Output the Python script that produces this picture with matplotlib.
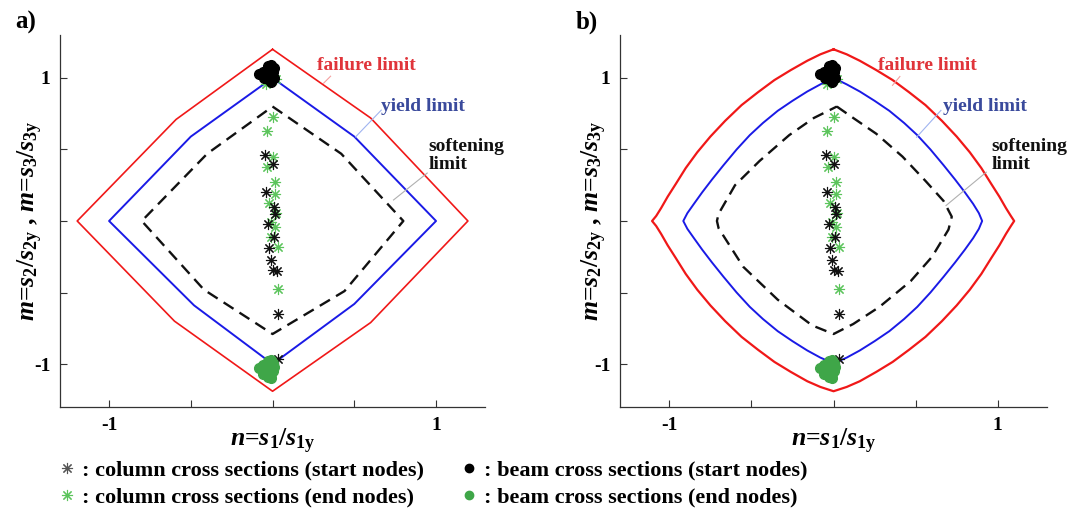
import matplotlib
matplotlib.use("Agg")
import matplotlib.pyplot as plt
from matplotlib.lines import Line2D

plt.rcParams['font.family'] = ['Liberation Serif', 'DejaVu Serif']
plt.rcParams['font.weight'] = 'bold'
plt.rcParams['mathtext.fontset'] = 'custom'
plt.rcParams['mathtext.it'] = 'Liberation Serif:italic:bold'
plt.rcParams['mathtext.rm'] = 'Liberation Serif:bold'
plt.rcParams['mathtext.bf'] = 'Liberation Serif:bold'

# --- limit surfaces, panel a (piecewise linear) ---
fail_a_n = [0, 0.60, 1.195, 0.60, 0, -0.60, -1.195, -0.59, 0]
fail_a_m = [1.20, 0.72, 0, -0.71, -1.19, -0.70, 0, 0.71, 1.20]
yield_a_n = [0, 0.50, 1.0, 0.50, 0, -0.48, -1.0, -0.50, 0]
yield_a_m = [1.0, 0.59, 0, -0.58, -1.0, -0.59, 0, 0.59, 1.0]
soft_a_n = [0, 0.42, 0.80, 0.44, 0, -0.42, -0.80, -0.40, 0]
soft_a_m = [0.80, 0.47, 0, -0.49, -0.79, -0.48, 0, 0.47, 0.80]

# --- limit surfaces, panel b (curved) ---
fail_b_n = [0, 0.08, 0.16, 0.26, 0.36, 0.46, 0.56, 0.66, 0.75, 0.83, 0.90, 0.96, 1.01, 1.05,
            1.08, 1.10, 1.08, 1.05, 1.01, 0.96, 0.90, 0.83, 0.75, 0.66, 0.56, 0.46, 0.36, 0.26,
            0.16, 0.08, 0, -0.08, -0.16, -0.26, -0.36, -0.46, -0.56, -0.66, -0.75, -0.83,
            -0.90, -0.96, -1.01, -1.05, -1.08, -1.105, -1.08, -1.05, -1.01, -0.96, -0.90, -0.83,
            -0.75, -0.66, -0.56, -0.46, -0.36, -0.26, -0.16, -0.08, 0]
fail_b_m = [1.20, 1.165, 1.12, 1.055, 0.985, 0.90, 0.81, 0.70, 0.59, 0.48, 0.37, 0.26, 0.17, 0.09,
            0.035, 0, -0.035, -0.09, -0.17, -0.26, -0.37, -0.48, -0.59, -0.70, -0.81, -0.90, -0.985,
            -1.055, -1.12, -1.16, -1.19, -1.16, -1.12, -1.055, -0.985, -0.90, -0.81, -0.70, -0.59,
            -0.48, -0.37, -0.26, -0.17, -0.09, -0.035, 0, 0.035, 0.09, 0.17, 0.26, 0.37, 0.48,
            0.59, 0.70, 0.81, 0.90, 0.985, 1.055, 1.12, 1.165, 1.20]
yield_b_n = [0, 0.08, 0.16, 0.25, 0.34, 0.43, 0.51, 0.59, 0.67, 0.74, 0.80, 0.85, 0.885, 0.905,
             0.885, 0.85, 0.80, 0.74, 0.67, 0.59, 0.51, 0.43, 0.34, 0.25, 0.16, 0.08, 0,
             -0.08, -0.16, -0.25, -0.34, -0.43, -0.51, -0.59, -0.67, -0.74, -0.80, -0.85, -0.89,
             -0.915, -0.89, -0.85, -0.80, -0.74, -0.67, -0.59, -0.51, -0.43, -0.34, -0.25, -0.16,
             -0.08, 0]
yield_b_m = [1.0, 0.955, 0.905, 0.84, 0.77, 0.685, 0.60, 0.50, 0.39, 0.29, 0.20, 0.12, 0.055, 0,
             -0.055, -0.12, -0.20, -0.29, -0.39, -0.50, -0.60, -0.685, -0.77, -0.84, -0.905, -0.955,
             -0.995, -0.955, -0.905, -0.84, -0.77, -0.685, -0.60, -0.50, -0.39, -0.29, -0.20, -0.12,
             -0.055, 0, 0.055, 0.12, 0.20, 0.29, 0.39, 0.50, 0.60, 0.685, 0.77, 0.84, 0.905, 0.955, 1.0]
soft_b_n = [0.02, 0.12, 0.26, 0.42, 0.56, 0.67, 0.72, 0.70, 0.60, 0.47, 0.28, 0.12, 0,
            -0.13, -0.34, -0.55, -0.70, -0.71, -0.70, -0.60, -0.45, -0.27, -0.12, 0.02]
soft_b_m = [0.80, 0.72, 0.61, 0.45, 0.28, 0.14, 0.03, -0.06, -0.25, -0.42, -0.60, -0.72, -0.79,
            -0.73, -0.55, -0.32, -0.05, 0, 0.05, 0.25, 0.42, 0.60, 0.72, 0.80]

# --- cross section states ---
col_start_n = [-0.044, 0.0, -0.04, 0.006, 0.012, -0.027, 0.01, -0.02, -0.01, 0.0, 0.025, 0.033, 0.036]
col_start_m = [0.46, 0.40, 0.20, 0.10, 0.05, -0.02, -0.11, -0.19, -0.27, -0.34, -0.35, -0.65, -0.965]
col_end_n = [0.0, -0.037, 0.0, -0.033, 0.012, 0.012, -0.023, 0.024, -0.008, 0.018, -0.012,
             0.033, 0.033, -0.04, 0.024]
col_end_m = [0.73, 0.63, 0.445, 0.375, 0.274, 0.19, 0.128, 0.054, -0.005, -0.04, -0.11,
             -0.18, -0.477, 0.96, 0.995]
beam_start_n = [-0.01, 0.01, -0.03, -0.06, -0.08, -0.05, -0.02, 0.0, 0.01, -0.03, -0.01, -0.05, -0.02]
beam_start_m = [1.09, 1.07, 1.08, 1.04, 1.03, 1.02, 1.03, 1.04, 1.0, 0.99, 0.97, 1.0, 1.06]
beam_end_n = [-0.01, 0.0, -0.03, -0.06, -0.08, -0.05, -0.02, 0.01, -0.01, -0.03, -0.01, -0.06, 0.0]
beam_end_m = [-0.97, -0.99, -0.98, -1.01, -1.03, -1.05, -1.03, -1.02, -1.07, -1.09, -1.10, -1.07, -1.05]

RED = '#f01818'
BLUE = '#1a1ae6'
GREEN_COL = '#5cc45c'
GREEN_BEAM = '#3fa648'
ASTER = (8, 2, 0)

fig = plt.figure(figsize=(10.72, 5.17), dpi=100)
ax_a = fig.add_axes([0.056, 0.2128, 0.3965, 0.7195])
ax_b = fig.add_axes([0.5784, 0.2128, 0.3983, 0.7195])

panels = [
    (ax_a, 'a)', 0.014, -0.07, fail_a_n, fail_a_m, yield_a_n, yield_a_m, soft_a_n, soft_a_m, 1.2,
     [(0.273, 1.089, 0.355, 1.012, 0.312, 0.963),
      (0.665, 0.80, 0.665, 0.775, 0.508, 0.588),
      (0.954, 0.46, 0.946, 0.335, 0.74, 0.147)]),
    (ax_b, 'b)', 0.537, -0.06, fail_b_n, fail_b_m, yield_b_n, yield_b_m, soft_b_n, soft_b_m, 1.6,
     [(0.27, 1.089, 0.404, 1.01, 0.359, 0.948),
      (0.667, 0.80, 0.654, 0.773, 0.506, 0.586),
      (0.96, 0.46, 0.93, 0.341, 0.685, 0.108)]),
]

for ax, tag, tx, ylx, fn, fm, yn, ym, sn, sm, flw, notes in panels:
    ax.plot(fn, fm, color=RED, lw=flw)
    ax.plot(yn, ym, color=BLUE, lw=1.4)
    ax.plot(sn, sm, color='#111111', lw=1.7, dashes=(5, 3))
    ax.plot(col_end_n, col_end_m, ls='none', marker=ASTER, ms=8, mew=0.8, color=GREEN_COL)
    ax.plot(col_start_n, col_start_m, ls='none', marker=ASTER, ms=8, mew=0.8, color='#111111')
    ax.plot(beam_start_n, beam_start_m, ls='none', marker='o', ms=7, color='black')
    ax.plot(beam_end_n, beam_end_m, ls='none', marker='o', ms=7, color=GREEN_BEAM)

    # annotations with leader lines
    (fx, fy, f1x, f1y, f2x, f2y), (yx, yy, y1x, y1y, y2x, y2y), (sx, sy, s1x, s1y, s2x, s2y) = notes
    ax.plot([f1x, f2x], [f1y, f2y], color='#f4a0a0', lw=0.8)
    ax.plot([y1x, y2x], [y1y, y2y], color='#a0b4f0', lw=0.8)
    ax.plot([s1x, s2x], [s1y, s2y], color='#b0b0b0', lw=0.8)
    ax.text(fx, fy, 'failure limit', color='#e0343a', fontsize=14, ha='left', va='center')
    ax.text(yx, yy, 'yield limit', color='#3a4a9c', fontsize=14, ha='left', va='center')
    ax.text(sx, sy, 'softening\nlimit', color='#111111', fontsize=14, ha='left', va='center',
            linespacing=1.1)

    ax.set_xlim(-1.3, 1.3)
    ax.set_ylim(-1.3, 1.3)
    ax.set_xticks([-1, -0.5, 0, 0.5, 1])
    ax.set_xticklabels(['-1', '', '', '', '1'])
    ax.set_yticks([-1, -0.5, 0, 0.5, 1])
    ax.set_yticklabels(['-1', '', '', '', '1'])
    ax.tick_params(direction='in', length=5, width=0.8, labelsize=14, pad=7, color='#333333')
    for side in ['top', 'right']:
        ax.spines[side].set_visible(False)
    for side in ['left', 'bottom']:
        ax.spines[side].set_color('#333333')
        ax.spines[side].set_linewidth(0.9)

    ax.text(0.5, -0.093, r'$n$=$s_{\mathrm{1}}/s_{\mathrm{1y}}$', transform=ax.transAxes,
            fontsize=18.5, ha='center', va='center')
    ax.text(ylx, 0.5, r'$m$=$s_{\mathrm{2}}/s_{\mathrm{2y}}$ , $m$=$s_{\mathrm{3}}/s_{\mathrm{3y}}$',
            transform=ax.transAxes, fontsize=18.5, ha='center', va='center', rotation=90)
    fig.text(tx, 0.957, tag, fontsize=18, ha='left', va='center')

handles = [
    Line2D([], [], ls='none', marker=ASTER, ms=8, mew=0.8, color='#555555'),
    Line2D([], [], ls='none', marker=ASTER, ms=8, mew=0.8, color=GREEN_COL),
    Line2D([], [], ls='none', marker='o', ms=6, color='black'),
    Line2D([], [], ls='none', marker='o', ms=6, color=GREEN_BEAM),
]
labels = [': column cross sections (start nodes)', ': column cross sections (end nodes)',
          ': beam cross sections (start nodes)', ': beam cross sections (end nodes)']
fig.legend(handles, labels, ncol=2, loc='upper left', bbox_to_anchor=(0.054, 0.11),
           frameon=False, fontsize=16, handlelength=0.8, handletextpad=0.3,
           columnspacing=1.6, labelspacing=0.3, borderpad=0, borderaxespad=0)

fig.savefig('out.png', dpi=100)
